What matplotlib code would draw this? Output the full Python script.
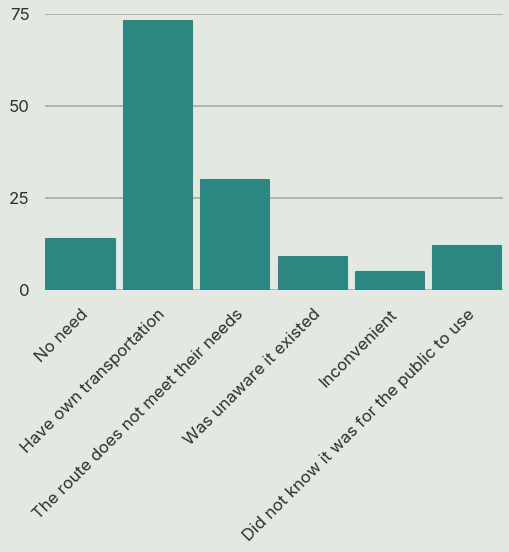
import matplotlib.pyplot as plt
import matplotlib.transforms as mtransforms

categories = ['No need', 'Have own transportation', 'The route does not meet their needs',
              'Was unaware it existed', 'Inconvenient', 'Did not know it was for the public to use']
counts = [14, 73, 30, 9, 5, 12]
yticks = [0, 25, 50, 75]

bar_color = '#2e8680'
bg_color = '#e3e9e2'
text_color = '#2e2e2e'

plt.rcParams['font.family'] = ['Inter', 'DejaVu Sans']
plt.rcParams['font.size'] = 12.2

fig = plt.figure(figsize=(5.1, 5.52), dpi=100)
fig.patch.set_facecolor(bg_color)
ax = fig.add_axes([0.088, 0.4746, 0.898, 0.5])
ax.set_facecolor(bg_color)

x = list(range(len(categories)))
ax.bar(x, counts, width=0.88, color=bar_color, edgecolor=bar_color,
       linewidth=1.5, joinstyle='round', zorder=3)

ax.set_xlim(-0.46, 5.46)
ax.set_ylim(0, 75)
ax.set_yticks(yticks)
ax.yaxis.grid(True, color='#a3ada7', linewidth=1.2, zorder=0)
ax.set_axisbelow(True)

ax.set_xticks(x)
ax.set_xticklabels(categories, rotation=45, ha='right', rotation_mode='anchor',
                   color=text_color)
shift = mtransforms.ScaledTranslation(9 / 100, 0, fig.dpi_scale_trans)
for lab in ax.get_xticklabels():
    lab.set_transform(lab.get_transform() + shift)
for lab in ax.get_yticklabels():
    lab.set_color(text_color)
ax.tick_params(axis='both', length=0)
ax.tick_params(axis='y', pad=11)
ax.tick_params(axis='x', pad=12)

for s in ax.spines.values():
    s.set_visible(False)

fig.savefig('out.png', dpi=100, facecolor=bg_color)
